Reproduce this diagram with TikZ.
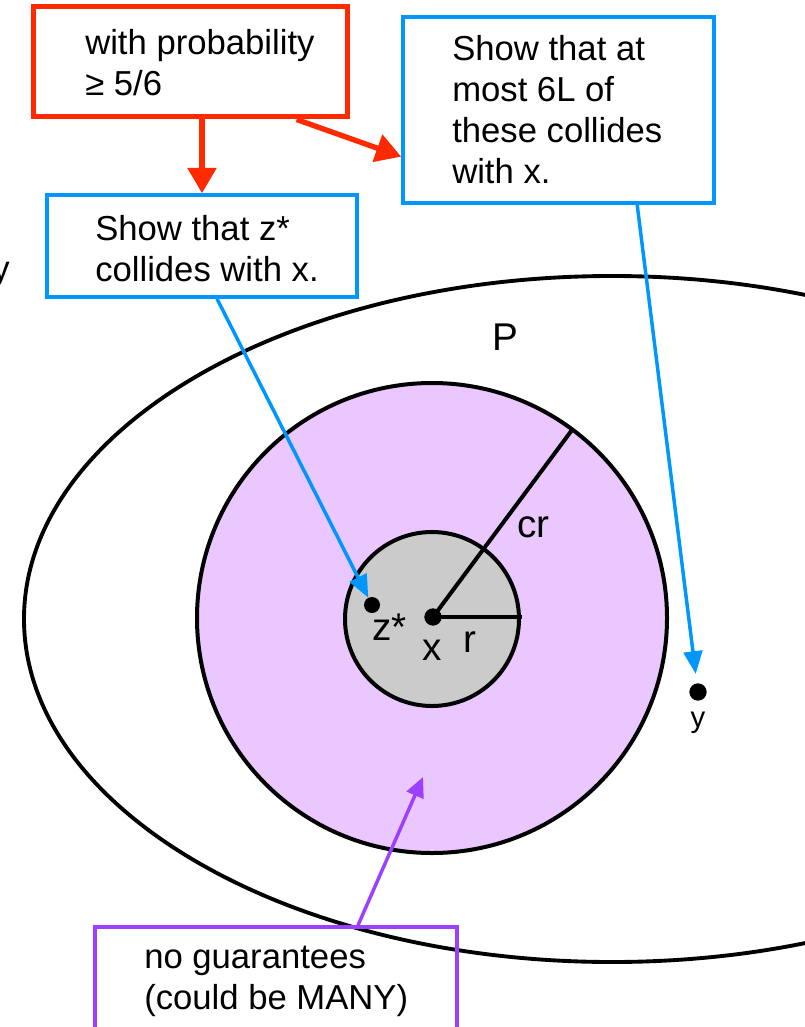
\documentclass[tikz,border=0pt]{standalone}
\usepackage{fontspec}
\setmainfont{Liberation Sans}
\usetikzlibrary{arrows.meta}
\definecolor{kred}{HTML}{FF2A00}
\definecolor{kblue}{HTML}{0096FF}
\definecolor{kpurple}{HTML}{9C40FF}
\definecolor{lav}{RGB}{235,199,255}
\definecolor{gry}{HTML}{CBCBCB}
\begin{document}
\begin{tikzpicture}[x=0.75pt,y=-0.75pt,
  boxtxt/.style={inner sep=0pt, anchor=base west, font=\fontsize{26}{30.75}\selectfont},
  lbl/.style={inner sep=0pt, font=\fontsize{29}{34}\selectfont},
  frame/.style={draw, inner sep=0pt},
  dotnode/.style={circle, fill=black, inner sep=0pt, minimum size=13pt},
  redarr/.style={draw=kred, line width=4pt, -{Triangle[length=19pt,width=21pt]}, kred},
  bluearr/.style={draw=kblue, line width=2.6pt, -{Triangle[length=17pt,width=14pt]}, kblue},
  purparr/.style={draw=kpurple, line width=2.6pt, -{Triangle[length=15pt,width=13.5pt]}, kpurple}
]
\useasboundingbox (0,0) rectangle (805,1027);

% outer region P
\draw[line width=2.9pt] (612,619) ellipse [x radius=441pt, y radius=257.25pt];
% cr-ball and r-ball
\draw[line width=3pt, fill=lav] (432,618) circle [radius=176.25pt];
\draw[line width=3pt, fill=gry] (432,619) circle [radius=65.25pt];

\coordinate (rend) at (522,617);
\coordinate (crend) at (572,430);
\coordinate (ptip) at (423,777);

\node[dotnode] (xdot) at (433,617) {};
\draw[line width=3pt] (xdot.center) -- (rend);
\draw[line width=3pt] (xdot.center) -- (crend);
\node[dotnode, minimum size=12pt] (zdot) at (372,605) {};
\node[dotnode] (ydot) at (698,692) {};

% labels
\node[lbl, anchor=base west] (zl) at (372,640) {z*};
\node[lbl, anchor=base] (xl) at (432,660) {x};
\node[lbl, anchor=base west] (rl) at (463,652) {r};
\node[lbl, anchor=base west] (crl) at (517,537) {cr};
\node[lbl, anchor=base west] (pl) at (492,350) {P};
\node[inner sep=0pt, anchor=base, font=\fontsize{22}{26}\selectfont] (yl) at (698,727) {y};
\node[boxtxt, anchor=base east] (ly) at (10,280) {y};

% boxes
\node[frame, draw=kred, line width=3.75pt, minimum width=235.5pt, minimum height=82.5pt] (prob) at (190,62) {};
\node[boxtxt] (probt) at (85,55) {\vtop{\hbox{with probability}\hbox{≥ 5/6}}};

\node[frame, draw=kblue, line width=2.6pt, minimum width=232.5pt, minimum height=76.5pt] (zbox) at (202,246) {};
\node[boxtxt] (zboxt) at (95,240) {\vtop{\hbox{Show that z*}\hbox{collides with x.}}};

\node[frame, draw=kblue, line width=2.6pt, minimum width=233.25pt, minimum height=139.5pt] (lbox) at (558.5,110) {};
\node[boxtxt] (lboxt) at (452,61) {\vtop{\hbox{Show that at}\hbox{most 6L of}\hbox{these collides}\hbox{with x.}}};

\node[frame, draw=kpurple, line width=2.6pt, minimum width=271.5pt, minimum height=88.5pt] (pbox) at (276,986) {};
\node[boxtxt] (pboxt) at (144,968) {\vtop{\hbox{no guarantees}\hbox{(could be MANY)}}};

% connectors
\draw[redarr] (prob.south -| zbox.north) -- (zbox.north);
\draw[redarr] ([xshift=80pt]prob.south) -- ([yshift=-35pt]lbox.west);
\draw[bluearr] ([xshift=11.25pt]zbox.south) -- (zdot);
\draw[bluearr, shorten >=7pt] ([xshift=59pt]lbox.south) -- (ydot);
\draw[purparr] ([xshift=61.5pt]pbox.north) -- (ptip);
\end{tikzpicture}
\end{document}
